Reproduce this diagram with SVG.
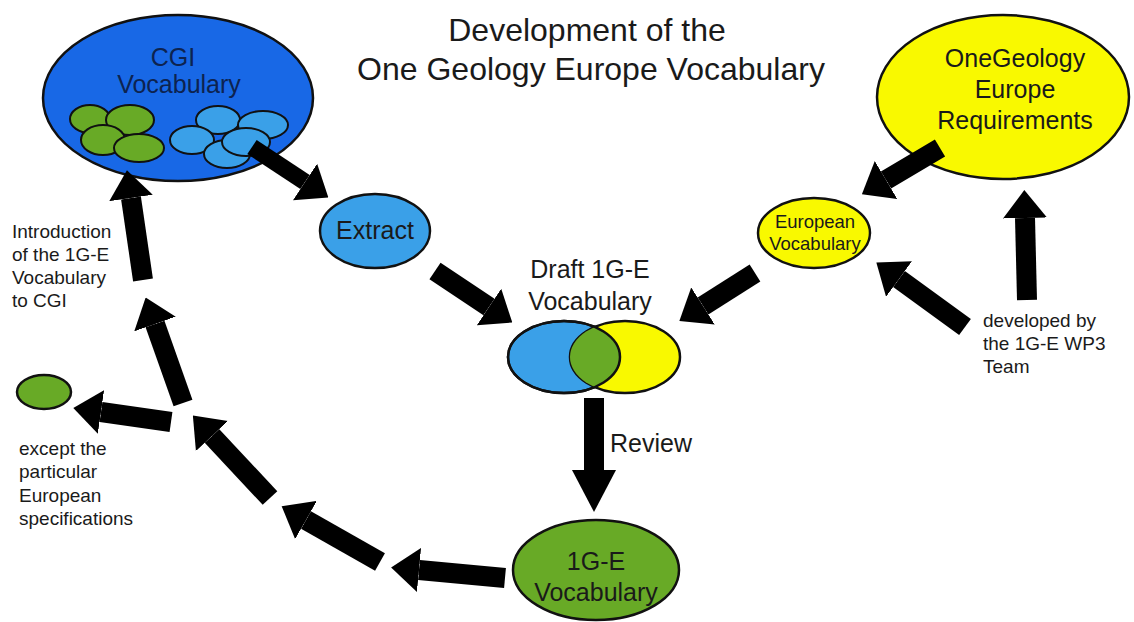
<svg xmlns="http://www.w3.org/2000/svg" width="1134" height="622" viewBox="0 0 1134 622">
<style>
text{font-family:"Liberation Sans",Arial,sans-serif;fill:#1a1a1a}
.lbl{font-size:25px;text-anchor:middle}
.note{font-size:19px}
.title{font-size:32px;text-anchor:middle}
.node{stroke:#111;stroke-width:2.5}
.sub{stroke:#111;stroke-width:2}
.blue{fill:#1868e6}
.lblue{fill:#3aa0e8}
.yellow{fill:#f9f900}
.green{fill:#68aa26}
.arr{stroke:#000;stroke-width:20;fill:none}
.arrT{stroke:#000;stroke-width:17;fill:none}
</style>
<defs>
<marker id="head" viewBox="0 0 28 44" refX="0" refY="22" markerWidth="28" markerHeight="44" markerUnits="userSpaceOnUse" orient="auto"><path d="M0,0 L28,22 L0,44 Z" fill="#000"/></marker>
<marker id="headLong" viewBox="0 0 42 44" refX="0" refY="22" markerWidth="42" markerHeight="44" markerUnits="userSpaceOnUse" orient="auto"><path d="M0,0 L42,22 L0,44 Z" fill="#000"/></marker>
<clipPath id="clipBlue"><ellipse cx="564" cy="357" rx="56" ry="36"/></clipPath>
</defs>
<rect width="1134" height="622" fill="#fff"/>

<g id="title">
<text class="title" x="587" y="41">Development of the</text>
<text class="title" x="591" y="80">One Geology Europe Vocabulary</text>
</g>

<g id="cgi">
<ellipse class="node blue" cx="178" cy="98" rx="135" ry="83"/>
<text class="lbl" x="173" y="66" style="fill:#0d2350">CGI</text>
<text class="lbl" x="179" y="93" style="fill:#0d2350">Vocabulary</text>
<ellipse class="sub green" cx="90" cy="119" rx="20" ry="14"/>
<ellipse class="sub green" cx="130" cy="120" rx="24" ry="15"/>
<ellipse class="sub green" cx="103" cy="140" rx="22" ry="15"/>
<ellipse class="sub green" cx="139" cy="148" rx="25" ry="14"/>
<ellipse class="sub lblue" cx="218" cy="120" rx="22" ry="14"/>
<ellipse class="sub lblue" cx="263" cy="125" rx="25" ry="14"/>
<ellipse class="sub lblue" cx="192" cy="140" rx="22" ry="14"/>
<ellipse class="sub lblue" cx="227" cy="154" rx="23" ry="14"/>
<ellipse class="sub lblue" cx="246" cy="142" rx="24" ry="14"/>
</g>

<g id="extract">
<ellipse class="node lblue" cx="375" cy="231" rx="55" ry="37"/>
<text class="lbl" x="375" y="239">Extract</text>
</g>

<g id="onegeology">
<ellipse class="node yellow" cx="1003" cy="97" rx="126" ry="82"/>
<text class="lbl" x="1015" y="67">OneGeology</text>
<text class="lbl" x="1015" y="98">Europe</text>
<text class="lbl" x="1015" y="129">Requirements</text>
</g>

<g id="european">
<ellipse class="node yellow" cx="814" cy="233" rx="56" ry="35"/>
<text class="lbl" x="815" y="228" style="font-size:18.5px">European</text>
<text class="lbl" x="815" y="250" style="font-size:18.5px">Vocabulary</text>
</g>

<g id="draft">
<text class="lbl" x="590" y="278">Draft 1G-E</text>
<text class="lbl" x="590" y="310">Vocabulary</text>
<ellipse class="node lblue" cx="564" cy="357" rx="56" ry="36"/>
<ellipse class="node yellow" cx="625" cy="357" rx="55" ry="36"/>
<ellipse class="green" cx="625" cy="357" rx="55" ry="36" clip-path="url(#clipBlue)"/>
<ellipse cx="564" cy="357" rx="56" ry="36" fill="none" stroke="#111" stroke-width="2.5"/>
</g>

<g id="final">
<ellipse class="node green" cx="596" cy="570" rx="83" ry="50"/>
<text class="lbl" x="596" y="570">1G-E</text>
<text class="lbl" x="596" y="601">Vocabulary</text>
</g>

<g id="leftover">
<ellipse class="node green" cx="44" cy="392" rx="27" ry="17"/>
</g>

<g id="notes">
<text class="note" x="12" y="238">Introduction</text>
<text class="note" x="12" y="261">of the 1G-E</text>
<text class="note" x="12" y="284">Vocabulary</text>
<text class="note" x="12" y="307">to CGI</text>
<text class="note" x="19" y="455">except the</text>
<text class="note" x="19" y="478">particular</text>
<text class="note" x="19" y="502">European</text>
<text class="note" x="19" y="525">specifications</text>
<text class="note" x="983" y="327">developed by</text>
<text class="note" x="983" y="350">the 1G-E WP3</text>
<text class="note" x="983" y="373">Team</text>
<text class="lbl" x="610" y="452" style="text-anchor:start">Review</text>
</g>

<g id="connectors">
<line class="arrT" x1="252" y1="147" x2="305" y2="182" marker-end="url(#head)"/>
<line class="arr" x1="435" y1="271" x2="489" y2="307" marker-end="url(#head)"/>
<line class="arr" x1="940" y1="148" x2="886" y2="180" marker-end="url(#head)"/>
<line class="arr" x1="755" y1="273" x2="703" y2="306" marker-end="url(#head)"/>
<line class="arr" x1="965" y1="327" x2="899" y2="279" marker-end="url(#head)"/>
<line class="arr" x1="1027" y1="300" x2="1025" y2="218" marker-end="url(#head)"/>
<line class="arr" x1="594" y1="398" x2="594" y2="470" marker-end="url(#headLong)"/>
<line class="arr" x1="505" y1="578" x2="419" y2="570" marker-end="url(#head)"/>
<line class="arr" x1="380" y1="562" x2="306" y2="520" marker-end="url(#head)"/>
<line class="arr" x1="270" y1="498" x2="212" y2="436" marker-end="url(#head)"/>
<line class="arr" x1="183" y1="403" x2="155" y2="324" marker-end="url(#head)"/>
<line class="arr" x1="143" y1="280" x2="131" y2="198" marker-end="url(#head)"/>
<line class="arr" x1="171" y1="422" x2="101" y2="412" marker-end="url(#head)"/>
</g>
</svg>
